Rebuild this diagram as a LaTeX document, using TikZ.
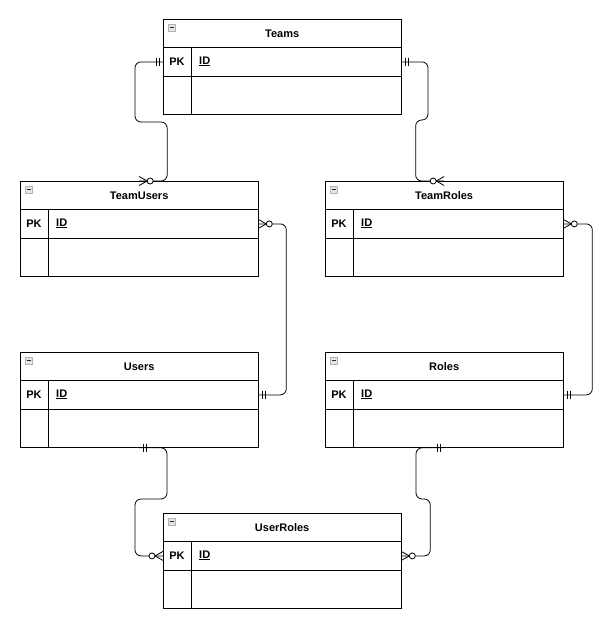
\documentclass[tikz,border=0pt]{standalone}
\usepackage{fontspec}
\setmainfont{Liberation Sans}
\usetikzlibrary{decorations.markings}

\begin{document}
\begin{tikzpicture}[
  x=1pt,y=-1pt,
  every node/.style={font=\fontsize{11}{13}\selectfont\bfseries},
  tabhead/.style={
    draw,
    fill=white,
    anchor=north west,
    inner sep=0pt,
    minimum width=237.5pt,
    minimum height=28pt
  },
  tabrow/.style={
    draw,
    fill=white,
    anchor=north west,
    inner sep=0pt,
    minimum width=237.5pt,
    minimum height=#1
  },
  rel/.style={line width=.8pt,rounded corners=6pt},
  one/.style={postaction={decorate,decoration={markings,
      mark=at position 4pt with {\draw (0,-4) -- (0,4);},
      mark=at position 7pt with {\draw (0,-4) -- (0,4);}}}},
  many/.style={postaction={decorate,decoration={markings,
      mark=at position 1 with {
        \draw (-8,0) -- (0,4.5) (-8,0) -- (0,-4.5);
        \draw[fill=white] (-11,0) circle (3);}}}}
]
  \path[fill=white] (0,0) rectangle (614,643);
  \useasboundingbox (0,0) rectangle (614,643);

  % Entities: header, key row and an empty body row each.
  \foreach \n/\x/\y/\t in {teams/163/19/Teams,
      teamusers/20/181/TeamUsers, teamroles/325/181/TeamRoles,
      users/20/352/Users, roles/325/352/Roles,
      userroles/163/513/UserRoles} {
    \node[tabhead,line width=.8pt] (\n-head) at (\x,\y) {\t};
    \node[tabrow=29pt,line width=.8pt] (\n-pk) at (\x,\y+28) {};
    \node[tabrow=38pt,line width=.8pt] (\n-body) at (\x,\y+57) {};
    \draw[line width=.8pt] (\x+28,\y+28) -- ++(0,67);
    \node (\n-key) at (\x+14,\y+42.5) {PK};
    \node[anchor=west,inner sep=0pt] (\n-id) at (\x+36,\y+42.5) {\underline{ID}};
    \draw[fill=gray!20,draw=gray!60,line width=.6pt]
      (\x+5,\y+5) rectangle ++(7,7);
    \draw[gray!30!black,line width=.8pt] (\x+6.5,\y+8.5) -- ++(4,0);
  }

  % Relations: mandatory one at the start, zero-or-many at the end.
  \draw[rel,one,many] (teams-pk.west) -| (135,122)
    -| ([xshift=28pt]teamusers-head.north) -- (teamusers-head.north);
  \draw[rel,one,many] (teams-pk.east) -| (428,120)
    -| ([xshift=-28.5pt]teamroles-head.north) -- (teamroles-head.north);
  \draw[rel,one,many] (users-pk.east) -- ++(28,0) |- (teamusers-pk.east);
  \draw[rel,one,many] (roles-pk.east) -- ++(29,0) |- (teamroles-pk.east);
  \draw[rel,one,many] (users-body.south) -| (167,499)
    -| ([xshift=-28pt]userroles-pk.west) -- (userroles-pk.west);
  \draw[rel,one,many] (roles-body.south) -| (416,499)
    -| ([xshift=29pt]userroles-pk.east) -- (userroles-pk.east);
\end{tikzpicture}
\end{document}
